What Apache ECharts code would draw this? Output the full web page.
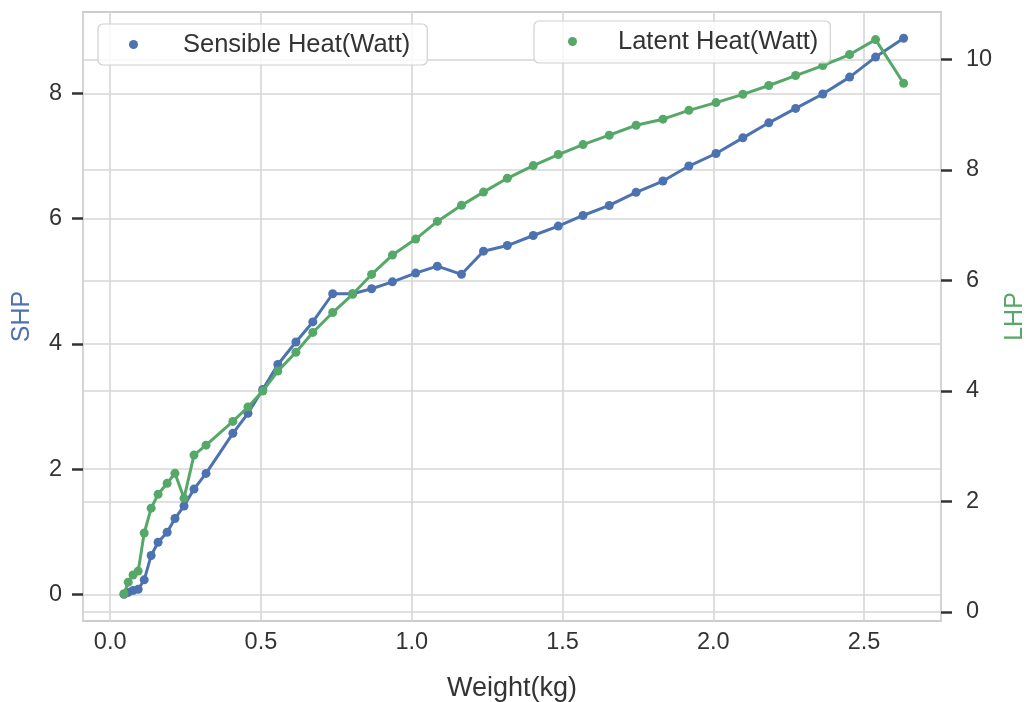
<!DOCTYPE html>
<html>
<head>
<meta charset="utf-8">
<script src="https://cdn.jsdelivr.net/npm/echarts@6/dist/echarts.min.js"></script>
<style>html,body{margin:0;padding:0;background:#fff;}#c{width:1028px;height:702px;}</style>
</head>
<body>
<div id="c"></div>
<script>
const weight = [0.046, 0.060, 0.076, 0.093, 0.113, 0.136, 0.159, 0.189, 0.215, 0.245, 0.278, 0.318, 0.407, 0.457, 0.506, 0.556, 0.616, 0.672, 0.738, 0.804, 0.867, 0.936, 1.013, 1.085, 1.165, 1.238, 1.317, 1.403, 1.486, 1.568, 1.655, 1.744, 1.833, 1.919, 2.009, 2.098, 2.184, 2.273, 2.363, 2.452, 2.538, 2.631];
const shp = [0.00, 0.03, 0.06, 0.08, 0.23, 0.62, 0.83, 0.99, 1.21, 1.41, 1.68, 1.93, 2.57, 2.89, 3.27, 3.67, 4.03, 4.35, 4.80, 4.80, 4.88, 4.99, 5.13, 5.24, 5.11, 5.48, 5.57, 5.73, 5.88, 6.05, 6.21, 6.42, 6.60, 6.84, 7.04, 7.29, 7.53, 7.76, 7.99, 8.26, 8.58, 8.88];
const lhp = [0.33, 0.54, 0.67, 0.74, 1.43, 1.88, 2.13, 2.33, 2.51, 2.06, 2.84, 3.02, 3.45, 3.71, 4.00, 4.36, 4.70, 5.06, 5.42, 5.75, 6.11, 6.46, 6.75, 7.07, 7.36, 7.60, 7.85, 8.08, 8.28, 8.46, 8.63, 8.81, 8.92, 9.08, 9.22, 9.37, 9.53, 9.71, 9.89, 10.09, 10.36, 9.57];
const shpTicks = [0, 2, 4, 6, 8];
const lhpTicks = [0, 2, 4, 6, 8, 10];
const seriesNames = ['Sensible Heat(Watt)', 'Latent Heat(Watt)'];

const FONT = 'Liberation Sans, Arial, sans-serif';
const BLUE = '#4c72b0', GREEN = '#55a868';
const GRIDC = '#d6d6d6';

const chart = echarts.init(document.getElementById('c'), null, {renderer: 'canvas'});
const legendCommon = {
  orient: 'horizontal', icon: 'circle', itemWidth: 9, itemHeight: 9,
  backgroundColor: 'rgba(255,255,255,0.8)', borderColor: '#d0d0d0', borderWidth: 1.2, borderRadius: 5,
  textStyle: {fontFamily: FONT, fontSize: 25.5, color: '#333', lineHeight: 27}
};
chart.setOption({
  animation: false,
  backgroundColor: '#fff',
  grid: {left: 83, right: 87, top: 12, bottom: 81, containLabel: false, outerBoundsMode: 'none',
    show: true, borderColor: '#cccccc', borderWidth: 2, backgroundColor: 'transparent'},
  legend: [
    Object.assign({}, legendCommon, {data: [seriesNames[0]], left: 98, top: 24, padding: [7, 17, 7, 31],
      textStyle: Object.assign({}, legendCommon.textStyle, {padding: [0, 0, 0, 40]})}),
    Object.assign({}, legendCommon, {data: [seriesNames[1]], left: 534, top: 21, padding: [7, 12, 8, 34],
      textStyle: Object.assign({}, legendCommon.textStyle, {padding: [0, 0, 0, 36]})})
  ],
  xAxis: {
    type: 'value', min: -0.09, max: 2.755, splitNumber: 5,
    name: 'Weight(kg)', nameLocation: 'middle', nameGap: 54,
    nameTextStyle: {fontFamily: FONT, fontSize: 27, color: '#333'},
    axisLine: {show: false, onZero: false}, axisTick: {show: false},
    axisLabel: {fontFamily: FONT, fontSize: 23.5, color: '#333', margin: 10, showMinLabel: false, showMaxLabel: false,
      formatter: v => v.toFixed(1)},
    splitLine: {show: true, lineStyle: {color: GRIDC, width: 1.6}}
  },
  yAxis: [
    {
      type: 'value', position: 'left', min: -0.427, max: 9.30, splitNumber: 5,
      name: 'SHP', nameLocation: 'middle', nameGap: 48, nameRotate: 90,
      nameTextStyle: {fontFamily: FONT, fontSize: 25, color: BLUE},
      axisLine: {show: false, onZero: false},
      axisTick: {show: true, length: 11, lineStyle: {color: '#333', width: 2.5}, customValues: shpTicks},
      axisLabel: {fontFamily: FONT, fontSize: 23.5, color: '#333', margin: 21, customValues: shpTicks},
      splitLine: {show: true, lineStyle: {color: GRIDC, width: 1.6}}
    },
    {
      type: 'value', position: 'right', min: -0.163, max: 10.86, splitNumber: 5,
      name: 'LHP', nameLocation: 'middle', nameGap: 60, nameRotate: 90,
      nameTextStyle: {fontFamily: FONT, fontSize: 25, color: GREEN},
      axisLine: {show: false, onZero: false},
      axisTick: {show: true, length: 11, lineStyle: {color: '#333', width: 2.5}, customValues: lhpTicks},
      axisLabel: {fontFamily: FONT, fontSize: 23.5, color: '#333', margin: 25, customValues: lhpTicks},
      splitLine: {show: true, lineStyle: {color: GRIDC, width: 1.6}}
    }
  ],
  series: [
    {
      name: seriesNames[0], type: 'line', yAxisIndex: 0, z: 2,
      data: weight.map((w, i) => [w, shp[i]]),
      symbol: 'circle', symbolSize: 9, showSymbol: true,
      itemStyle: {color: BLUE}, lineStyle: {color: BLUE, width: 3}
    },
    {
      name: seriesNames[1], type: 'line', yAxisIndex: 1, z: 3,
      data: weight.map((w, i) => [w, lhp[i]]),
      symbol: 'circle', symbolSize: 9, showSymbol: true,
      itemStyle: {color: GREEN}, lineStyle: {color: GREEN, width: 3}
    }
  ]
});
</script>
</body>
</html>
